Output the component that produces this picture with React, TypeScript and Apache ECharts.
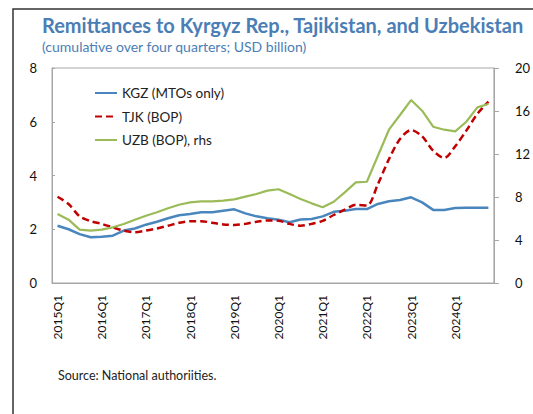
import React, { useEffect, useRef } from "react";
import * as echarts from "echarts";

const years = [2015, 2016, 2017, 2018, 2019, 2020, 2021, 2022, 2023, 2024];
const quarters = ["Q1", "Q2", "Q3", "Q4"];
const categories: string[] = years.flatMap((y) => quarters.map((q) => `${y}${q}`));

const kgz = [
  2.13, 2.0, 1.82, 1.7, 1.72, 1.76, 1.95, 2.03, 2.17, 2.28,
  2.41, 2.52, 2.57, 2.63, 2.63, 2.69, 2.74, 2.59, 2.48, 2.41,
  2.35, 2.26, 2.36, 2.38, 2.48, 2.65, 2.69, 2.75, 2.75, 2.94,
  3.04, 3.09, 3.19, 3.0, 2.72, 2.72, 2.79, 2.8, 2.8, 2.8,
];
const tjk = [
  3.21, 2.94, 2.48, 2.3, 2.2, 2.07, 1.95, 1.89, 1.95, 2.03,
  2.13, 2.24, 2.3, 2.3, 2.24, 2.18, 2.16, 2.2, 2.28, 2.33,
  2.32, 2.2, 2.13, 2.2, 2.31, 2.53, 2.73, 2.91, 2.88, 3.68,
  4.61, 5.36, 5.69, 5.46, 4.92, 4.65, 5.09, 5.67, 6.29, 6.75,
];
const uzb = [
  6.42, 5.89, 4.96, 4.87, 4.96, 5.18, 5.49, 5.89, 6.26, 6.58,
  6.95, 7.28, 7.5, 7.6, 7.6, 7.66, 7.78, 8.03, 8.28, 8.59,
  8.72, 8.28, 7.81, 7.41, 7.04, 7.56, 8.43, 9.36, 9.42, 11.84,
  14.26, 15.63, 17.02, 16.03, 14.54, 14.26, 14.11, 15.0, 16.34, 16.65,
];

const seriesNames = ["KGZ (MTOs only)", "TJK (BOP)", "UZB (BOP), rhs"];
const titleText = "Remittances to Kyrgyz Rep., Tajikistan, and Uzbekistan";
const subtitleText = "(cumulative over four quarters; USD billion)";
const sourceText = "Source: National authoriities.";

export default function App() {
  const ref = useRef<HTMLDivElement>(null);
  useEffect(() => {
    if (!ref.current) return;
    const chart = echarts.init(ref.current, undefined, { renderer: "svg" });
    const font = "Lato";
    const axisGray = "#a6a6a6";
    chart.setOption({
      animation: false,
      backgroundColor: "#fff",
      textStyle: { fontFamily: font },
      graphic: [
        {
          type: "rect",
          shape: { x: 13, y: 9, width: 700, height: 600 },
          style: { fill: "none", stroke: "#333", lineWidth: 1.5 },
          silent: true,
        },
        {
          type: "text",
          left: 42,
          top: 15,
          style: { text: titleText, fill: "#4a7eb5", font: `bold 20px ${font}` },
        },
        {
          type: "text",
          left: 42,
          top: 39,
          style: { text: subtitleText, fill: "#4a7eb5", font: `14px ${font}` },
        },
        {
          type: "text",
          left: 58,
          top: 369,
          style: { text: sourceText, fill: "#222", font: `12.5px ${font}` },
        },
      ],
      legend: {
        orient: "vertical",
        left: 89,
        top: 81,
        itemWidth: 22,
        itemHeight: 14,
        itemGap: 9.5,
        itemStyle: { opacity: 0 },
        textStyle: { fontSize: 13.5, color: "#222", fontFamily: font },
        data: seriesNames,
      },
      grid: {
        left: 52,
        right: 29,
        top: 68,
        bottom: 131,
        show: true,
        borderColor: axisGray,
        borderWidth: 1,
      },
      xAxis: {
        type: "category",
        data: categories,
        boundaryGap: true,
        axisLine: { lineStyle: { color: axisGray } },
        axisTick: { inside: true, length: 3, interval: 0, lineStyle: { color: axisGray } },
        axisLabel: { interval: 3, rotate: 90, margin: 12, fontSize: 12, color: "#111" },
        splitLine: { show: false },
      },
      yAxis: [
        {
          type: "value",
          position: "left",
          min: 0,
          max: 8,
          interval: 2,
          splitLine: { show: false },
          axisLine: { show: true, lineStyle: { color: axisGray } },
          axisTick: { show: true, inside: true, length: 3, lineStyle: { color: axisGray } },
          axisLabel: { margin: 15, fontSize: 13, color: "#111" },
        },
        {
          type: "value",
          position: "right",
          min: 0,
          max: 20,
          interval: 4,
          splitLine: { show: false },
          axisLine: { show: true, lineStyle: { color: axisGray } },
          axisTick: { show: true, inside: false, length: 5, lineStyle: { color: axisGray } },
          axisLabel: { margin: 21, fontSize: 13, color: "#111" },
        },
      ],
      series: [
        {
          name: seriesNames[0],
          type: "line",
          data: kgz,
          yAxisIndex: 0,
          symbol: "none",
          lineStyle: { color: "#4a86be", width: 2.5 },
          itemStyle: { color: "#4a86be" },
        },
        {
          name: seriesNames[1],
          type: "line",
          data: tjk,
          yAxisIndex: 0,
          symbol: "none",
          smooth: 0.3,
          lineStyle: { color: "#c00000", width: 2.5, type: [7, 4] },
          itemStyle: { color: "#c00000" },
        },
        {
          name: seriesNames[2],
          type: "line",
          data: uzb,
          yAxisIndex: 1,
          symbol: "none",
          lineStyle: { color: "#9bbb59", width: 2.2 },
          itemStyle: { color: "#9bbb59" },
        },
      ],
    });
    return () => chart.dispose();
  }, []);
  return (
    <div
      ref={ref}
      style={{ position: "fixed", left: 0, top: 0, width: 533, height: 414 }}
    />
  );
}
